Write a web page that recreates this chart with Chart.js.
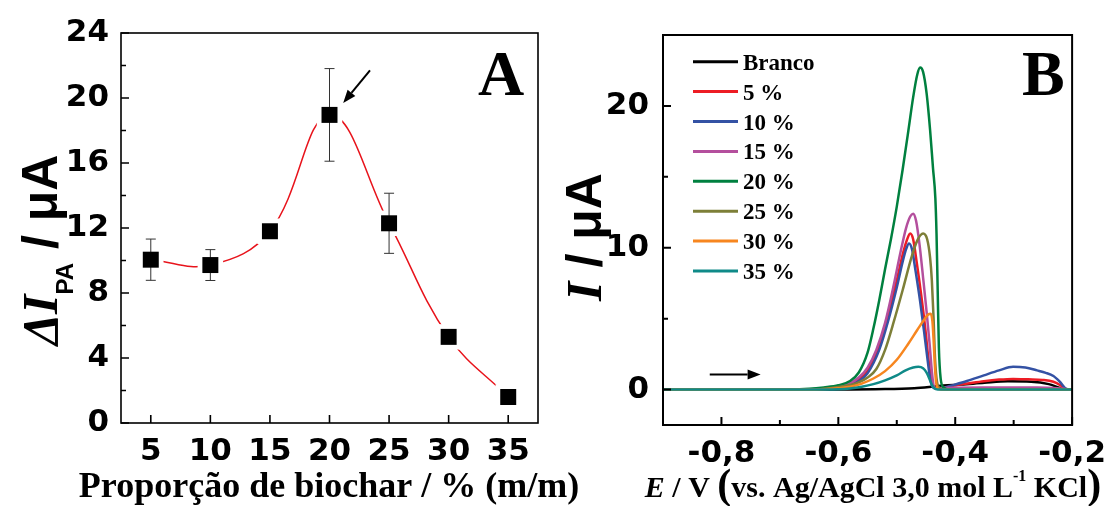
<!DOCTYPE html>
<html>
<head>
<meta charset="utf-8">
<script src="https://cdn.jsdelivr.net/npm/chart.js@4.4.1/dist/chart.umd.min.js"></script>
<style>
  html, body { margin: 0; padding: 0; background: #fff; }
  #wrap { position: relative; width: 1116px; height: 506px; overflow: hidden; }
  #chartA { position: absolute; left: 0; top: 0; z-index: 1; }
  #chartB { position: absolute; left: 560px; top: 0; z-index: 2; }
</style>
</head>
<body>
<div id="wrap">
  <canvas id="chartA" width="620" height="506"></canvas>
  <canvas id="chartB" width="556" height="506"></canvas>
</div>
<script>
// Panel A - peak current vs biochar proportion
const proportion = [5, 10, 15, 20, 25, 30, 35];
const deltaIpa = [10.05, 9.72, 11.8, 18.96, 12.29, 5.3, 1.6];
const errIpa = [1.27, 0.95, 0.35, 2.85, 1.85, 0.3, 0.2];
const xTicksA = [5, 10, 15, 20, 25, 30, 35];
const yTicksA = [0, 4, 8, 12, 16, 20, 24];
const yMinorA = [2, 6, 10, 14, 18, 22];

// Panel B - voltammograms, pairs of [E / V, I / uA]
const potTicks = [-0.8, -0.6, -0.4, -0.2];
const potMinor = [-0.9, -0.7, -0.5, -0.3];
const curTicks = [0, 10, 20];
const curMinor = [5, 15];
const seriesNames = ['Branco', '5 %', '10 %', '15 %', '20 %', '25 %', '30 %', '35 %'];
const seriesColors = ['#000000', '#ed1c24', '#3452a4', '#b44f9d', '#00803f', '#7d7f38', '#f7861f', '#0f8a88'];

const branco = [[-0.9, 0], [-0.6, 0], [-0.52, 0.03], [-0.47, 0.1], [-0.44, 0.2], [-0.42, 0.28], [-0.39, 0.35],
  [-0.35, 0.48], [-0.31, 0.58], [-0.27, 0.55], [-0.24, 0.38], [-0.216, 0.05], [-0.2, 0]];
const curve5 = [[-0.9, 0], [-0.65, 0], [-0.62, 0.05], [-0.6, 0.15], [-0.58, 0.35], [-0.565, 0.7], [-0.55, 1.3],
  [-0.53, 3.0], [-0.515, 5.2], [-0.5, 7.7], [-0.49, 9.5], [-0.483, 10.5], [-0.477, 11.0], [-0.472, 10.6],
  [-0.466, 9.0], [-0.458, 6.6], [-0.451, 4.2], [-0.446, 2.2], [-0.442, 0.9], [-0.438, 0.2], [-0.432, 0.05],
  [-0.42, 0.1], [-0.402, 0.28], [-0.375, 0.45], [-0.351, 0.59], [-0.325, 0.7], [-0.301, 0.75], [-0.275, 0.72],
  [-0.251, 0.68], [-0.232, 0.55], [-0.22, 0.3], [-0.211, 0.02], [-0.2, 0]];
const curve10 = [[-0.9, 0], [-0.65, 0], [-0.62, 0.03], [-0.6, 0.12], [-0.58, 0.3], [-0.565, 0.6], [-0.55, 1.15],
  [-0.53, 2.8], [-0.515, 4.8], [-0.5, 7.2], [-0.49, 9.0], [-0.484, 9.9], [-0.479, 10.3], [-0.474, 9.9],
  [-0.468, 8.4], [-0.46, 6.2], [-0.453, 4.0], [-0.447, 2.0], [-0.443, 0.8], [-0.439, 0.2], [-0.433, 0.05],
  [-0.42, 0.12], [-0.402, 0.33], [-0.38, 0.6], [-0.351, 1.0], [-0.325, 1.35], [-0.301, 1.6], [-0.28, 1.55],
  [-0.26, 1.35], [-0.245, 1.18], [-0.232, 0.95], [-0.221, 0.55], [-0.21, 0.05], [-0.2, 0]];
const curve15 = [[-0.9, 0], [-0.66, 0], [-0.63, 0.05], [-0.6, 0.2], [-0.58, 0.45], [-0.565, 0.85], [-0.55, 1.55],
  [-0.535, 2.8], [-0.52, 4.7], [-0.505, 7.4], [-0.493, 9.8], [-0.484, 11.4], [-0.477, 12.2], [-0.472, 12.4],
  [-0.467, 11.9], [-0.461, 10.2], [-0.455, 7.9], [-0.449, 5.5], [-0.444, 3.3], [-0.44, 1.3], [-0.437, 0.3],
  [-0.433, 0.1], [-0.42, 0.12], [-0.35, 0.15], [-0.26, 0.15], [-0.22, 0.08], [-0.2, 0]];
const curve20 = [[-0.9, 0], [-0.68, 0], [-0.65, 0.05], [-0.625, 0.15], [-0.6, 0.3], [-0.58, 0.6], [-0.565, 1.2],
  [-0.55, 2.6], [-0.54, 4.3], [-0.53, 6.3], [-0.52, 8.5], [-0.51, 10.6], [-0.5, 12.9], [-0.49, 15.5],
  [-0.48, 18.3], [-0.472, 20.6], [-0.465, 22.2], [-0.46, 22.7], [-0.455, 22.4], [-0.449, 20.9], [-0.443, 18.3],
  [-0.438, 15.6], [-0.434, 13.5], [-0.432, 11.0], [-0.43, 7.0], [-0.428, 3.0], [-0.425, 0.8], [-0.42, 0.15],
  [-0.41, 0], [-0.2, 0]];
const curve25 = [[-0.9, 0], [-0.64, 0], [-0.62, 0.05], [-0.6, 0.18], [-0.58, 0.32], [-0.565, 0.5], [-0.55, 0.85],
  [-0.535, 1.45], [-0.52, 2.8], [-0.505, 4.8], [-0.49, 7.0], [-0.475, 9.3], [-0.465, 10.5], [-0.455, 11.0],
  [-0.448, 10.6], [-0.443, 9.3], [-0.44, 7.7], [-0.437, 5.0], [-0.435, 2.6], [-0.432, 0.8], [-0.428, 0.15],
  [-0.42, 0], [-0.2, 0]];
const curve30 = [[-0.9, 0], [-0.64, 0], [-0.62, 0.03], [-0.6, 0.1], [-0.58, 0.2], [-0.56, 0.42], [-0.54, 0.78],
  [-0.52, 1.3], [-0.5, 2.1], [-0.48, 3.25], [-0.465, 4.2], [-0.452, 5.0], [-0.446, 5.3], [-0.442, 5.34],
  [-0.439, 4.8], [-0.437, 3.5], [-0.435, 1.8], [-0.433, 0.6], [-0.43, 0.1], [-0.425, 0], [-0.2, 0]];
const curve35 = [[-0.9, 0], [-0.62, 0], [-0.6, 0.02], [-0.58, 0.08], [-0.56, 0.2], [-0.54, 0.38], [-0.52, 0.65],
  [-0.5, 1.0], [-0.485, 1.35], [-0.472, 1.55], [-0.463, 1.6], [-0.455, 1.5], [-0.449, 1.2], [-0.444, 0.75],
  [-0.44, 0.35], [-0.436, 0.1], [-0.43, 0], [-0.2, 0]];
const curvesB = [branco, curve5, curve10, curve15, curve20, curve25, curve30, curve35];

// arrows, in data coordinates [tailX, tailY, headX, headY]
const arrowA = [23.4, 21.7, 21.15, 19.7];
const arrowB = [-0.82, 1.06, -0.733, 1.06];

const tickFont = { family: 'DejaVu Sans', weight: 'bold', size: 31 };

// draw a run of text pieces with different fonts
function drawRich(ctx, parts, x, y, angle, align) {
  ctx.save();
  ctx.translate(x, y);
  ctx.rotate(angle);
  let total = 0;
  parts.forEach(p => { ctx.font = p.font; p.w = ctx.measureText(p.text).width; total += p.w; });
  let cx = align === 'center' ? -total / 2 : 0;
  ctx.fillStyle = '#000';
  ctx.textAlign = 'left';
  ctx.textBaseline = 'alphabetic';
  parts.forEach(p => {
    ctx.font = p.font;
    ctx.fillText(p.text, cx, p.dy || 0);
    cx += p.w;
  });
  ctx.restore();
}

function drawArrow(ctx, x1, y1, x2, y2) {
  const ang = Math.atan2(y2 - y1, x2 - x1);
  const len = 13, half = 5;
  const bx = x2 - len * Math.cos(ang), by = y2 - len * Math.sin(ang);
  ctx.save();
  ctx.strokeStyle = '#000';
  ctx.fillStyle = '#000';
  ctx.lineWidth = 2;
  ctx.beginPath();
  ctx.moveTo(x1, y1);
  ctx.lineTo(bx, by);
  ctx.stroke();
  ctx.beginPath();
  ctx.moveTo(x2, y2);
  ctx.lineTo(bx + half * Math.sin(ang), by - half * Math.cos(ang));
  ctx.lineTo(bx - half * Math.sin(ang), by + half * Math.cos(ang));
  ctx.closePath();
  ctx.fill();
  ctx.restore();
}

// box around the plot area plus inward tick marks
const framePlugin = {
  id: 'frame',
  afterDraw(chart, args, opts) {
    const { ctx, chartArea: a, scales: { x, y } } = chart;
    ctx.save();
    ctx.strokeStyle = '#000';
    ctx.lineWidth = opts.lineWidth;
    ctx.strokeRect(a.left, a.top, a.right - a.left, a.bottom - a.top);
    ctx.beginPath();
    opts.xMajor.forEach(v => { const p = x.getPixelForValue(v); ctx.moveTo(p, a.bottom); ctx.lineTo(p, a.bottom - 8); });
    opts.xMinor.forEach(v => { const p = x.getPixelForValue(v); ctx.moveTo(p, a.bottom); ctx.lineTo(p, a.bottom - 5); });
    opts.yMajor.forEach(v => { const p = y.getPixelForValue(v); ctx.moveTo(a.left, p); ctx.lineTo(a.left + 8, p); });
    opts.yMinor.forEach(v => { const p = y.getPixelForValue(v); ctx.moveTo(a.left, p); ctx.lineTo(a.left + 5, p); });
    ctx.stroke();
    ctx.restore();
  }
};

// ---------------- Panel A ----------------
const pointsA = proportion.map((p, i) => ({ x: p, y: deltaIpa[i] }));

const errorBars = {
  id: 'errorBars',
  afterDatasetDraw(chart, args) {
    if (args.index !== 1) return; // after the white halo, before the squares
    const { ctx, scales: { x, y } } = chart;
    ctx.save();
    ctx.strokeStyle = '#333';
    ctx.lineWidth = 1;
    ctx.beginPath();
    proportion.forEach((p, i) => {
      const px = x.getPixelForValue(p);
      const top = y.getPixelForValue(deltaIpa[i] + errIpa[i]);
      const bot = y.getPixelForValue(deltaIpa[i] - errIpa[i]);
      ctx.moveTo(px, top); ctx.lineTo(px, bot);
      ctx.moveTo(px - 5, top); ctx.lineTo(px + 5, top);
      ctx.moveTo(px - 5, bot); ctx.lineTo(px + 5, bot);
    });
    ctx.stroke();
    ctx.restore();
  }
};

const textA = {
  id: 'textA',
  afterDraw(chart) {
    const { ctx, scales: { x, y } } = chart;
    drawRich(ctx, [{ text: 'Proporção de biochar / % (m/m)', font: 'bold 36px "Liberation Serif"' }], 329, 497, 0, 'center');
    drawRich(ctx, [
      { text: 'Δ', font: 'italic bold 50px "Liberation Serif"' },
      { text: 'I', font: 'italic bold 50px "Liberation Serif"' },
      { text: 'PA', font: 'bold 24px "Liberation Sans"', dy: 16 },
      { text: ' / μA', font: 'bold 50px "Liberation Sans"' }
    ], 57, 250, -Math.PI / 2, 'center');
    drawRich(ctx, [{ text: 'A', font: 'bold 64px "Liberation Serif"' }], 478, 95, 0, 'left');
    drawArrow(ctx, x.getPixelForValue(arrowA[0]), y.getPixelForValue(arrowA[1]),
      x.getPixelForValue(arrowA[2]), y.getPixelForValue(arrowA[3]));
  }
};

new Chart(document.getElementById('chartA'), {
  type: 'line',
  data: {
    datasets: [
      { label: 'spline', data: pointsA, borderColor: '#e8131b', borderWidth: 1.5, tension: 0.4, pointRadius: 0, order: 3 },
      { label: 'halo', data: pointsA, showLine: false, pointStyle: 'rect', pointRadius: 18,
        pointBackgroundColor: '#fff', pointBorderWidth: 0, order: 2 },
      { label: 'ΔIPA', data: pointsA, showLine: false, pointStyle: 'rect', pointRadius: 11.3,
        pointBackgroundColor: '#000', pointBorderWidth: 0, order: 1 }
    ]
  },
  options: {
    responsive: false,
    animation: false,
    devicePixelRatio: 1,
    layout: { padding: { top: 33, right: 620 - 538, left: 0, bottom: 0 } },
    plugins: {
      legend: { display: false },
      tooltip: { enabled: false },
      frame: { lineWidth: 1.6, xMajor: xTicksA, xMinor: [], yMajor: yTicksA, yMinor: yMinorA }
    },
    scales: {
      x: {
        type: 'linear', min: 2.5, max: 37.5,
        afterBuildTicks: s => { s.ticks = xTicksA.map(v => ({ value: v })); },
        afterFit: s => { s.height = 83; },
        grid: { display: false, drawTicks: false },
        border: { display: false },
        ticks: { font: tickFont, color: '#000', padding: 10, maxRotation: 0, autoSkip: false }
      },
      y: {
        min: 0, max: 24,
        afterBuildTicks: s => { s.ticks = yTicksA.map(v => ({ value: v })); },
        afterFit: s => { s.width = 121; },
        grid: { display: false, drawTicks: false },
        border: { display: false },
        ticks: { font: tickFont, color: '#000', padding: 12 }
      }
    }
  },
  plugins: [errorBars, framePlugin, textA]
});

// ---------------- Panel B ----------------
const textB = {
  id: 'textB',
  afterDraw(chart) {
    const { ctx, scales: { x, y } } = chart;
    // legend
    ctx.save();
    chart.data.datasets.forEach((ds, i) => {
      const ly = 61.7 + i * 29.9;
      ctx.strokeStyle = ds.borderColor;
      ctx.lineWidth = 3;
      ctx.beginPath();
      ctx.moveTo(133, ly);
      ctx.lineTo(178, ly);
      ctx.stroke();
      ctx.fillStyle = '#000';
      ctx.font = 'bold 23px "Liberation Serif"';
      ctx.textAlign = 'left';
      ctx.textBaseline = 'alphabetic';
      ctx.fillText(ds.label, 183, ly + 8);
    });
    ctx.restore();
    drawRich(ctx, [
      { text: 'E', font: 'italic bold 30px "Liberation Serif"' },
      { text: ' / V ', font: 'bold 30px "Liberation Serif"' },
      { text: '(', font: 'bold 42px "Liberation Serif"', dy: 1 },
      { text: 'vs. Ag/AgCl 3,0 mol L', font: 'bold 30px "Liberation Serif"' },
      { text: '-1', font: 'bold 16px "Liberation Serif"', dy: -16 },
      { text: ' KCl', font: 'bold 30px "Liberation Serif"' },
      { text: ')', font: 'bold 42px "Liberation Serif"', dy: 1 }
    ], 313, 497, 0, 'center');
    drawRich(ctx, [
      { text: 'I', font: 'italic bold 50px "Liberation Serif"' },
      { text: ' / μA', font: 'bold 50px "Liberation Sans"' }
    ], 41, 237, -Math.PI / 2, 'center');
    drawRich(ctx, [{ text: 'B', font: 'bold 64px "Liberation Serif"' }], 462, 95, 0, 'left');
    drawArrow(ctx, x.getPixelForValue(arrowB[0]), y.getPixelForValue(arrowB[1]),
      x.getPixelForValue(arrowB[2]), y.getPixelForValue(arrowB[3]));
  }
};

new Chart(document.getElementById('chartB'), {
  type: 'line',
  data: {
    datasets: seriesNames.map((name, i) => ({
      label: name,
      data: curvesB[i].map(p => ({ x: p[0], y: p[1] })),
      borderColor: seriesColors[i],
      borderWidth: 2.5,
      pointRadius: 0,
      cubicInterpolationMode: 'monotone',
      order: seriesNames.length - i
    }))
  },
  options: {
    responsive: false,
    animation: false,
    devicePixelRatio: 1,
    layout: { padding: { top: 35, right: 556 - 519, left: 0, bottom: 0 } },
    plugins: {
      legend: { display: false },
      tooltip: { enabled: false },
      frame: { lineWidth: 2, xMajor: potTicks, xMinor: potMinor, yMajor: curTicks, yMinor: curMinor }
    },
    scales: {
      x: {
        type: 'linear', min: -0.9, max: -0.2,
        afterBuildTicks: s => { s.ticks = potTicks.map(v => ({ value: v })); },
        afterFit: s => { s.height = 81; },
        grid: { display: false, drawTicks: false },
        border: { display: false },
        ticks: { font: tickFont, color: '#000', padding: 10, maxRotation: 0, autoSkip: false,
          callback: v => v.toFixed(1).replace('.', ',') }
      },
      y: {
        min: -2.5, max: 25,
        afterBuildTicks: s => { s.ticks = curTicks.map(v => ({ value: v })); },
        afterFit: s => { s.width = 103; },
        grid: { display: false, drawTicks: false },
        border: { display: false },
        ticks: { font: tickFont, color: '#000', padding: 14 }
      }
    }
  },
  plugins: [framePlugin, textB]
});
</script>
</body>
</html>
